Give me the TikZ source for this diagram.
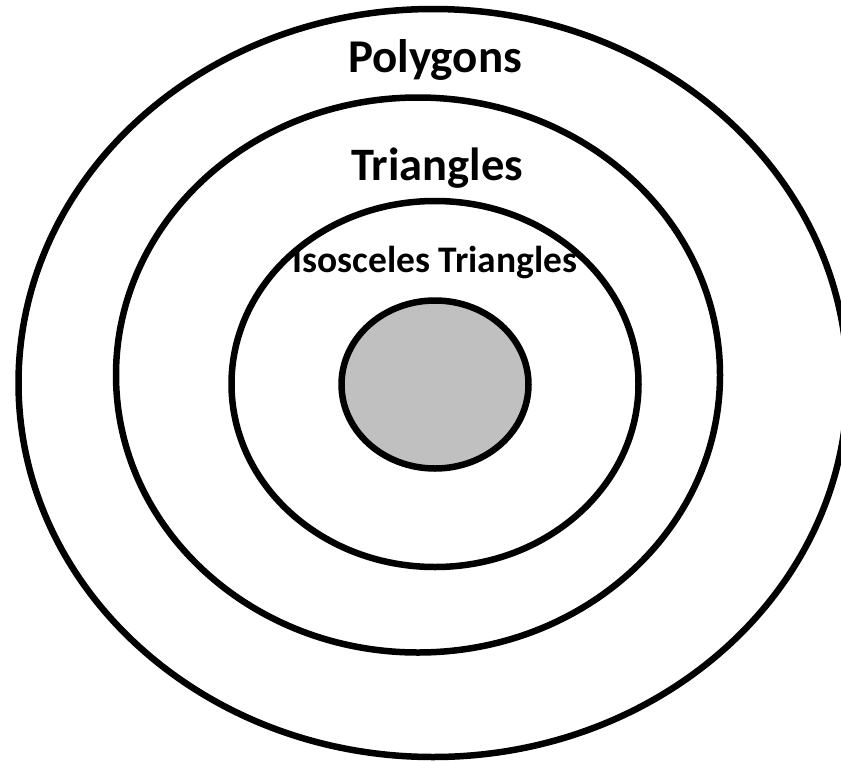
\documentclass[tikz,border=0pt]{standalone}
\usepackage{fontspec}
\setmainfont{Carlito}
\begin{document}
\begin{tikzpicture}[x=1pt,y=-1pt,
  ring/.style={draw=black,line width=6.5pt},
  lbl/.style={anchor=base,inner sep=0pt,font=\bfseries}]
\useasboundingbox (0,0) rectangle (841,761);
\begin{scope}
\clip (0,0) rectangle (841,761);
\draw[ring] (433,383) ellipse [x radius=414.5, y radius=374];
\end{scope}
\draw[ring] (418,375) ellipse [x radius=302, y radius=277.5];
\draw[ring] (435,384) ellipse [x radius=203.5, y radius=183];
\draw[ring,fill={rgb,255:red,192;green,192;blue,192}] (435,384.5) ellipse [x radius=93.5, y radius=84];
\node[lbl,font=\bfseries\fontsize{47}{52}\selectfont] (poly) at (435,72) {Polygons};
\node[lbl,font=\bfseries\fontsize{46.5}{52}\selectfont] (tri) at (437,180) {Triangles};
\node[lbl,font=\bfseries\fontsize{37.5}{42}\selectfont] (iso) at (435,272) {Isosceles Triangles};
\end{tikzpicture}
\end{document}
